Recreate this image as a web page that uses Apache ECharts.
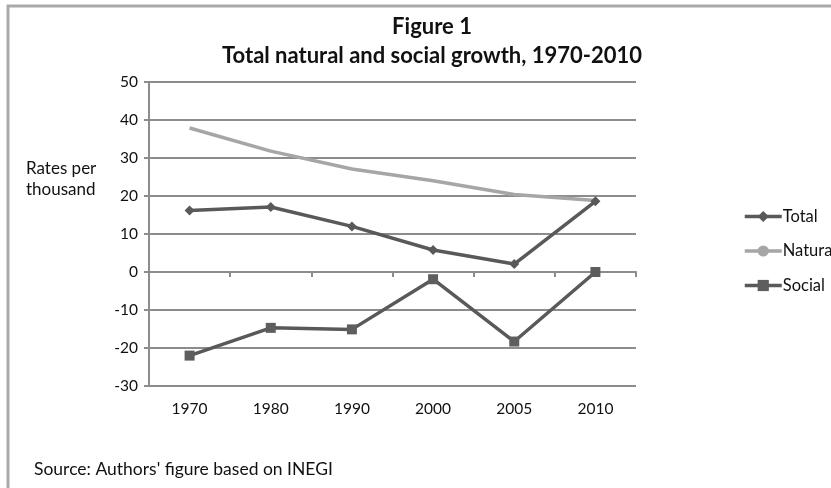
<!DOCTYPE html>
<html>
<head>
<meta charset="utf-8">
<script src="https://cdn.jsdelivr.net/npm/echarts@6/dist/echarts.min.js"></script>
<style>
  html, body { margin: 0; padding: 0; background: #fff; }
  #chart { width: 831px; height: 488px; }
</style>
</head>
<body>
<div id="chart"></div>
<script>
// Census years on the category axis
const years = ['1970', '1980', '1990', '2000', '2005', '2010'];
// Growth rates per thousand inhabitants
const totalGrowth = [16.2, 17.1, 12.0, 5.8, 2.1, 18.6];
const naturalGrowth = [37.9, 31.8, 27.1, 24.0, 20.4, 18.8];
const socialGrowth = [-22.0, -14.7, -15.1, -1.9, -18.3, 0.0];
const seriesNames = ['Total', 'Natural', 'Social'];
const titleLines = ['Figure 1', 'Total natural and social growth, 1970-2010'];
const yAxisTitle = ['Rates per', 'thousand'];
const sourceNote = "Source: Authors' figure based on INEGI";

const FONT = 'Lato, "Open Sans", sans-serif';
const GRID_GRAY = '#8c8c8c';
const DARK = '#595959';
const LIGHT = '#a6a6a6';

const chart = echarts.init(document.getElementById('chart'), null, { renderer: 'canvas' });

chart.setOption({
  animation: false,
  backgroundColor: '#fff',
  textStyle: { fontFamily: FONT },
  legend: {
    orient: 'vertical',
    left: 743,
    top: 208,
    padding: 0,
    itemGap: 17.5,
    itemWidth: 37,
    itemHeight: 14,
    lineStyle: { width: 3.5 },
    data: seriesNames,
    textStyle: { fontFamily: FONT, fontSize: 16.5, color: '#111', padding: [0, 0, 0, -4] }
  },
  grid: { left: 149, right: 195, top: 82, bottom: 102, containLabel: false },
  xAxis: [
    {
      // axis line crossing at zero, with tick marks between categories
      type: 'category',
      data: years,
      boundaryGap: true,
      axisLine: { show: true, onZero: true, lineStyle: { color: GRID_GRAY, width: 2 } },
      axisTick: { show: true, length: 5, alignWithLabel: false, lineStyle: { color: GRID_GRAY, width: 2 } },
      axisLabel: { show: false },
      splitLine: { show: false }
    },
    {
      // category labels placed below the plot area
      type: 'category',
      data: years,
      position: 'bottom',
      boundaryGap: true,
      axisLine: { show: false, onZero: false },
      axisTick: { show: false },
      axisLabel: { show: true, margin: 15, fontFamily: FONT, fontSize: 15.5, color: '#111' },
      splitLine: { show: false }
    }
  ],
  yAxis: {
    type: 'value',
    min: -30,
    max: 50,
    interval: 10,
    axisLine: { show: true, lineStyle: { color: GRID_GRAY, width: 2 } },
    axisTick: { show: true, length: 5, lineStyle: { color: GRID_GRAY, width: 2 } },
    axisLabel: { margin: 11, fontFamily: FONT, fontSize: 15.5, color: '#111' },
    splitLine: { show: true, lineStyle: { color: GRID_GRAY, width: 2 } }
  },
  series: [
    {
      name: seriesNames[0],
      type: 'line',
      xAxisIndex: 0,
      data: totalGrowth,
      symbol: 'diamond',
      symbolSize: 10,
      lineStyle: { color: DARK, width: 3.5 },
      itemStyle: { color: DARK },
      z: 3
    },
    {
      name: seriesNames[1],
      type: 'line',
      xAxisIndex: 0,
      data: naturalGrowth,
      symbol: 'none',
      showSymbol: false,
      lineStyle: { color: LIGHT, width: 3.5 },
      itemStyle: { color: LIGHT },
      z: 2
    },
    {
      name: seriesNames[2],
      type: 'line',
      xAxisIndex: 0,
      data: socialGrowth,
      symbol: 'rect',
      symbolSize: 10,
      lineStyle: { color: DARK, width: 3.5 },
      itemStyle: { color: '#5e5e5e' },
      z: 3
    }
  ],
  graphic: [
    {
      type: 'rect',
      shape: { x: 8, y: 6, width: 900, height: 600 },
      style: { fill: 'none', stroke: '#a9a9a9', lineWidth: 3 },
      silent: true,
      z: 100
    },
    {
      // two-line chart heading
      type: 'text',
      x: 432,
      y: 12,
      style: {
        text: titleLines.join('\n'),
        font: 'bold 22px ' + FONT,
        lineHeight: 29,
        align: 'center',
        verticalAlign: 'top',
        fill: '#111'
      }
    },
    {
      type: 'text',
      left: 26,
      top: 158,
      style: {
        text: yAxisTitle.join('\n'),
        font: '17px ' + FONT,
        lineHeight: 21,
        fill: '#111'
      }
    },
    {
      type: 'text',
      left: 34,
      top: 460,
      style: {
        text: sourceNote,
        font: '17.5px ' + FONT,
        fill: '#111'
      }
    }
  ]
});
</script>
</body>
</html>
